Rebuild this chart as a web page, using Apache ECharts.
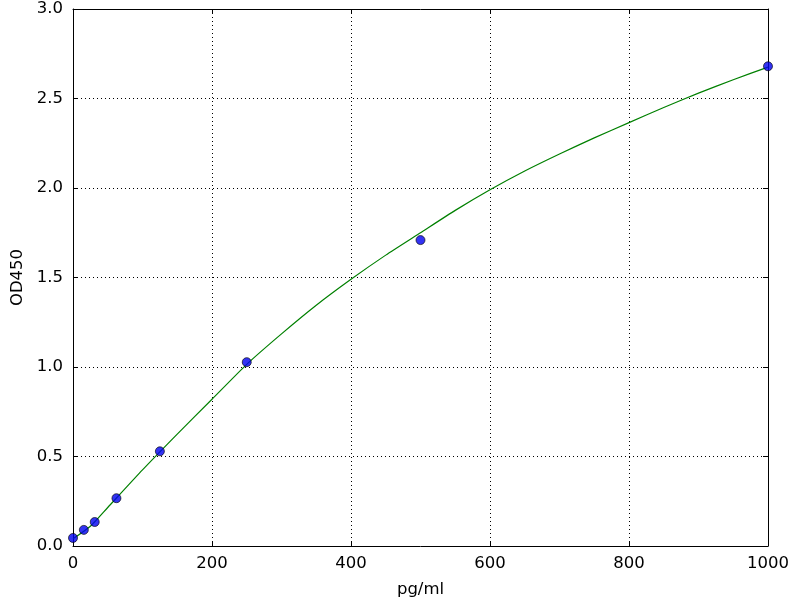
<!DOCTYPE html>
<html>
<head>
<meta charset="utf-8">
<script src="https://cdn.jsdelivr.net/npm/echarts@6/dist/echarts.min.js"></script>
<style>
  html, body { margin: 0; padding: 0; background: #fff; }
  #chart { width: 800px; height: 600px; }
</style>
</head>
<body>
<div id="chart"></div>
<script>
// standards (pg/ml) and measured OD450
const stdConc = [0, 15.6, 31.25, 62.5, 125, 250, 500, 1000];
const stdOD = [0.045, 0.09, 0.134, 0.267, 0.529, 1.027, 1.709, 2.68];

// fitted curve, every 50 pg/ml
const fitConc = [0, 25, 50, 100, 150, 200, 250, 300, 350, 400, 450, 500,
  550, 600, 650, 700, 750, 800, 850, 900, 950, 1000];
const fitOD = [0.04, 0.11, 0.215, 0.425, 0.625, 0.82, 1.015, 1.185, 1.345, 1.49, 1.625, 1.75,
  1.875, 1.99, 2.095, 2.19, 2.28, 2.365, 2.45, 2.53, 2.605, 2.675];

const FONT = "DejaVu Sans";

const pair = (xs, ys) => xs.map((x, i) => [x, ys[i]]);

const chart = echarts.init(document.getElementById("chart"));

const baseAxis = {
  axisLine: { show: true, onZero: false, lineStyle: { color: "#000", width: 1 } },
  axisTick: { show: true, inside: true, length: 5, lineStyle: { color: "#000" } },
  splitLine: { show: false },
};
const dotted = { show: true, lineStyle: { color: "#000", type: [1, 3], width: 1 } };

chart.setOption({
  animation: false,
  backgroundColor: "#fff",
  grid: { left: 73, right: 32, top: 9, bottom: 54, containLabel: false, outerBoundsMode: "none" },
  xAxis: [
    {
      ...baseAxis,
      type: "value",
      min: 0, max: 1000, interval: 200,
      name: "pg/ml",
      nameLocation: "middle",
      nameGap: 35,
      nameTextStyle: { fontFamily: FONT, fontSize: 16.5, color: "#000" },
      axisLabel: { fontFamily: FONT, fontSize: 16.5, color: "#000", margin: 9, formatter: v => String(v) },
      splitLine: dotted,
    },
    {
      ...baseAxis,
      type: "value",
      position: "top",
      min: 0, max: 1000, interval: 200,
      axisLabel: { show: false },
    },
  ],
  yAxis: [
    {
      ...baseAxis,
      type: "value",
      min: 0, max: 3, interval: 0.5,
      name: "OD450",
      nameLocation: "middle",
      nameGap: 44,
      nameTextStyle: { fontFamily: FONT, fontSize: 16.5, color: "#000" },
      axisLabel: {
        fontFamily: FONT, fontSize: 16.5, color: "#000", margin: 10,
        formatter: v => v.toFixed(1),
      },
      splitLine: dotted,
    },
    {
      ...baseAxis,
      type: "value",
      position: "right",
      min: 0, max: 3, interval: 0.5,
      axisLabel: { show: false },
    },
  ],
  series: [
    {
      name: "fit",
      type: "line",
      smooth: 0.2,
      showSymbol: false,
      lineStyle: { color: "#008000", width: 1.2 },
      data: pair(fitConc, fitOD),
      z: 2,
    },
    {
      name: "standards",
      type: "scatter",
      symbolSize: 9,
      itemStyle: { color: "#0000f0", borderColor: "#000", borderWidth: 0.8 },
      data: pair(stdConc, stdOD),
      z: 3,
    },
  ],
});
</script>
</body>
</html>
